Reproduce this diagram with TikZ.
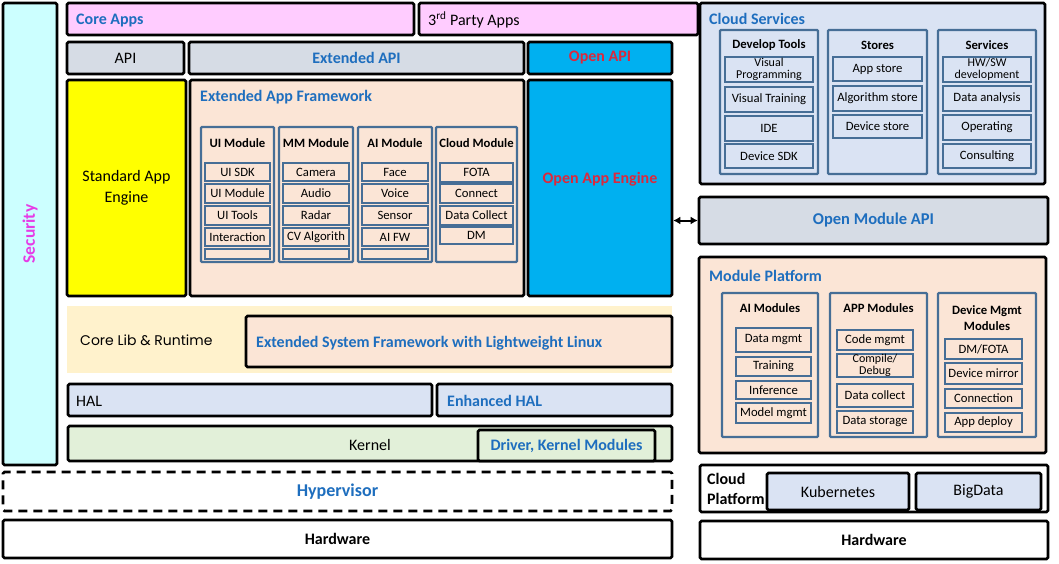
\documentclass[tikz,border=0pt]{standalone}
\usepackage{fontspec}
\setmainfont{Carlito}
\newfontfamily\gothic{Poppins}
\usetikzlibrary{arrows.meta}
\definecolor{secc}{HTML}{CCFFFF}
\definecolor{pinkc}{HTML}{FFCCFF}
\definecolor{apic}{HTML}{D6DCE5}
\definecolor{openc}{HTML}{00B0F0}
\definecolor{redt}{RGB}{220,40,60}
\definecolor{blu}{RGB}{30,110,190}
\definecolor{peach}{HTML}{FBE5D6}
\definecolor{modb}{RGB}{70,110,150}
\definecolor{libc}{HTML}{FFF2CC}
\definecolor{halc}{HTML}{DAE3F3}
\definecolor{kerc}{HTML}{E2F0D9}
\definecolor{mag}{RGB}{230,60,230}
\definecolor{yel}{HTML}{FFFF00}
\newcommand\fs[2]{\fontsize{#1}{#2}\selectfont}
\newcommand\bx[7]{\node[#6, minimum width={(#4-#2)*1pt}, minimum height={(#5-#3)*1pt}] (#1) at ({(#2+#4)/2},{-(#3+#5)/2}) {#7};}
\tikzset{
  blk/.style={draw=black, line width=2.6pt, rounded corners=1.5pt, inner sep=0pt, align=center, font=\fs{16}{18}},
  mcol/.style={draw=modb, line width=2.4pt, fill=peach, rounded corners=1pt, inner sep=0pt},
  ccol/.style={mcol, fill=halc},
  mrow/.style={draw=modb, line width=2pt, fill=peach, inner sep=0pt, align=center, font=\fs{12.7}{10.5}},
  crow/.style={mrow, fill=halc},
  tworow/.style={font=\fs{12}{11.6}},
  ttl/.style={inner sep=0pt, anchor=west, font=\bfseries\fs{16}{18}, text=blu},
  mttl/.style={inner sep=0pt, align=center, font=\bfseries\fs{12.7}{16}},
  lbl/.style={inner sep=0pt, anchor=west, font=\fs{16}{18}},
}
\begin{document}
\begin{tikzpicture}[x=1pt,y=1pt]
\useasboundingbox (0,0) rectangle (1059,-563);
% ---------- left stack ----------
\bx{sec}{3}{3}{57}{465}{blk,fill=secc}{}
\node[rotate=90, inner sep=0pt, font=\bfseries\fs{17.5}{18}, text=mag] (sect) at (30,-234) {Security};

\bx{coreapps}{67}{3}{414}{35}{blk,fill=pinkc}{}
\node[ttl] (coreappst) at (76,-20.5) {Core Apps};
\bx{third}{419}{3}{698}{35}{blk,fill=pinkc}{}
\node[lbl] (thirdt) at (428,-20) {3\textsuperscript{rd} Party Apps};

\bx{api}{67}{42}{184}{74}{blk,fill=apic}{API}
\bx{extapi}{189}{42}{524}{74}{blk,fill=apic,font=\bfseries\fs{16}{18},text=blu}{Extended API}
\bx{openapi}{528}{42}{672}{74}{blk,fill=openc,font=\bfseries\fs{16}{18},text=redt}{Open API}

\bx{stdeng}{67}{80}{186}{296}{blk,fill=yel,font=\fs{16}{21}}{Standard App\\Engine}
\bx{extfw}{190}{80}{524}{296}{blk,fill=peach}{}
\node[ttl] (extfwt) at (200,-97) {Extended App Framework};
\bx{openeng}{528}{80}{672}{296}{blk,fill=openc}{}
\node[inner sep=0pt, font=\bfseries\fs{16}{18}, text=redt] (openengt) at (600,-179) {Open App Engine};

% modules
\bx{uic}{201}{127}{274}{262}{mcol}{}
\bx{mmc}{279}{127}{353}{262}{mcol}{}
\bx{aic}{358}{127}{432}{262}{mcol}{}
\bx{clc}{436}{127}{517}{262}{mcol}{}
\node[mttl] (uit) at (237.5,-143) {UI Module};
\node[mttl] (mmt) at (316,-143) {MM Module};
\node[mttl] (ait) at (395,-143) {AI Module};
\node[mttl] (clt) at (476.5,-143) {Cloud Module};

\bx{ui1}{205}{163}{270}{181}{mrow}{UI SDK}
\bx{ui2}{205}{184}{270}{203}{mrow}{UI Module}
\bx{ui3}{205}{206}{270}{225}{mrow}{UI Tools}
\bx{ui4}{205}{228}{270}{246}{mrow}{Interaction}
\bx{ui5}{205}{249}{270}{259}{mrow}{}

\bx{mm1}{283}{163}{349}{181}{mrow}{Camera}
\bx{mm2}{283}{184}{349}{203}{mrow}{Audio}
\bx{mm3}{283}{206}{349}{225}{mrow}{Radar}
\bx{mm4}{283}{228}{349}{246}{mrow}{CV Algorith}
\bx{mm5}{283}{249}{349}{259}{mrow}{}

\bx{ai1}{362}{163}{428}{181}{mrow}{Face}
\bx{ai2}{362}{184}{428}{203}{mrow}{Voice}
\bx{ai3}{362}{206}{428}{225}{mrow}{Sensor}
\bx{ai4}{362}{228}{428}{246}{mrow}{AI FW}
\bx{ai5}{362}{249}{428}{259}{mrow}{}

\bx{cl1}{440}{163}{513}{182}{mrow}{FOTA}
\bx{cl2}{440}{184}{513}{203}{mrow}{Connect}
\bx{cl3}{440}{206}{513}{225}{mrow}{Data Collect}
\bx{cl4}{440}{227}{513}{244}{mrow}{DM}

% core lib
\bx{corelib}{67}{306}{672}{373}{fill=libc, inner sep=0pt}{}
\node[inner sep=0pt, anchor=west, font=\gothic\fs{14}{16}] (corelibt) at (80,-340) {Core Lib \& Runtime};
\bx{esf}{246}{316}{672}{367}{blk,fill=peach}{}
\node[ttl] (esft) at (256,-343) {Extended System Framework with Lightweight Linux};

\bx{hal}{68}{384}{432}{416}{blk,fill=halc}{}
\node[lbl] (halt) at (76,-401) {HAL};
\bx{ehal}{437}{384}{672}{416}{blk,fill=halc}{}
\node[ttl] (ehalt) at (447,-401) {Enhanced HAL};

\bx{kernel}{68}{426}{672}{461}{blk,fill=kerc}{}
\node[inner sep=0pt, font=\fs{16}{18}] (kernelt) at (370,-445) {Kernel};
\bx{driver}{478}{430}{655}{461}{blk,fill=kerc,font=\bfseries\fs{16}{18},text=blu}{Driver, Kernel Modules}

\bx{hyp}{3}{472}{672}{511}{blk,dashed,dash pattern=on 9pt off 6pt,font=\bfseries\fs{18}{18},text=blu}{Hypervisor}
\bx{hwl}{3}{520}{672}{558}{blk,font=\bfseries\fs{16}{18}}{Hardware}

% ---------- right side ----------
\bx{cs}{700}{3}{1045}{184}{blk,fill=halc}{}
\node[ttl] (cst) at (709,-19) {Cloud Services};
\bx{devc}{720}{30}{818}{174}{ccol}{}
\bx{stc}{828}{30}{927}{174}{ccol}{}
\bx{svc}{938}{30}{1036}{174}{ccol}{}
\node[mttl] (devt) at (769,-45) {Develop Tools};
\node[mttl] (stt) at (877.5,-45) {Stores};
\node[mttl] (svt) at (987,-45) {Services};

\bx{dv1}{725}{57}{813}{82}{crow,tworow}{Visual\\Programming}
\bx{dv2}{725}{87}{813}{112}{crow}{Visual Training}
\bx{dv3}{725}{116}{813}{141}{crow}{IDE}
\bx{dv4}{725}{144}{813}{168}{crow}{Device SDK}

\bx{st1}{833}{57}{922}{81}{crow}{App store}
\bx{st2}{833}{86}{922}{111}{crow}{Algorithm store}
\bx{st3}{833}{115}{922}{138}{crow}{Device store}

\bx{sv1}{943}{57}{1031}{82}{crow,tworow}{HW/SW\\development}
\bx{sv2}{943}{86}{1031}{111}{crow}{Data analysis}
\bx{sv3}{943}{115}{1031}{140}{crow}{Operating}
\bx{sv4}{943}{144}{1031}{168}{crow}{Consulting}

\bx{oma}{699}{197}{1048}{244}{blk,fill=apic,font=\bfseries\fs{16.5}{18},text=blu}{Open Module API}
\draw[{Latex[length=7pt,width=8pt]}-{Latex[length=7pt,width=8pt]}, line width=2pt] (openeng.east |- oma.west) -- (oma.west);

\bx{mp}{699}{257}{1046}{453}{blk,fill=peach}{}
\node[ttl] (mpt) at (709,-276) {Module Platform};
\bx{aimc}{722}{293}{818}{437}{mcol}{}
\bx{appc}{830}{293}{927}{437}{mcol}{}
\bx{dmc}{938}{293}{1036}{437}{mcol}{}
\node[mttl] (aimt) at (770,-308) {AI Modules};
\node[mttl] (appt) at (878.5,-308) {APP Modules};
\node[mttl] (dmt) at (987,-318) {Device Mgmt\\Modules};

\bx{am1}{736}{328}{811}{352}{mrow}{Data mgmt}
\bx{am2}{736}{357}{811}{376}{mrow}{Training}
\bx{am3}{736}{381}{811}{399}{mrow}{Inference}
\bx{am4}{736}{403}{811}{423}{mrow}{Model mgmt}

\bx{pm1}{837}{330}{913}{350}{mrow}{Code mgmt}
\bx{pm2}{837}{354}{913}{377}{mrow,tworow}{Compile/\\Debug}
\bx{pm3}{837}{384}{913}{407}{mrow}{Data collect}
\bx{pm4}{837}{411}{913}{433}{mrow}{Data storage}

\bx{dm1}{945}{339}{1022}{359}{mrow}{DM/FOTA}
\bx{dm2}{945}{363}{1022}{384}{mrow}{Device mirror}
\bx{dm3}{945}{389}{1022}{408}{mrow}{Connection}
\bx{dm4}{945}{413}{1022}{432}{mrow}{App deploy}

\bx{cp}{700}{465}{1048}{512}{blk,fill=white}{}
\node[inner sep=0pt, anchor=west, align=left, font=\bfseries\fs{16}{20}] (cpt) at (707,-489) {Cloud\\Platform};
\bx{kub}{767}{473}{909}{510}{blk,fill=halc}{Kubernetes}
\bx{bigd}{916}{473}{1041}{510}{blk,fill=halc}{BigData}
\bx{hwr}{700}{521}{1048}{559}{blk,font=\bfseries\fs{16}{18}}{Hardware}
\end{tikzpicture}
\end{document}
